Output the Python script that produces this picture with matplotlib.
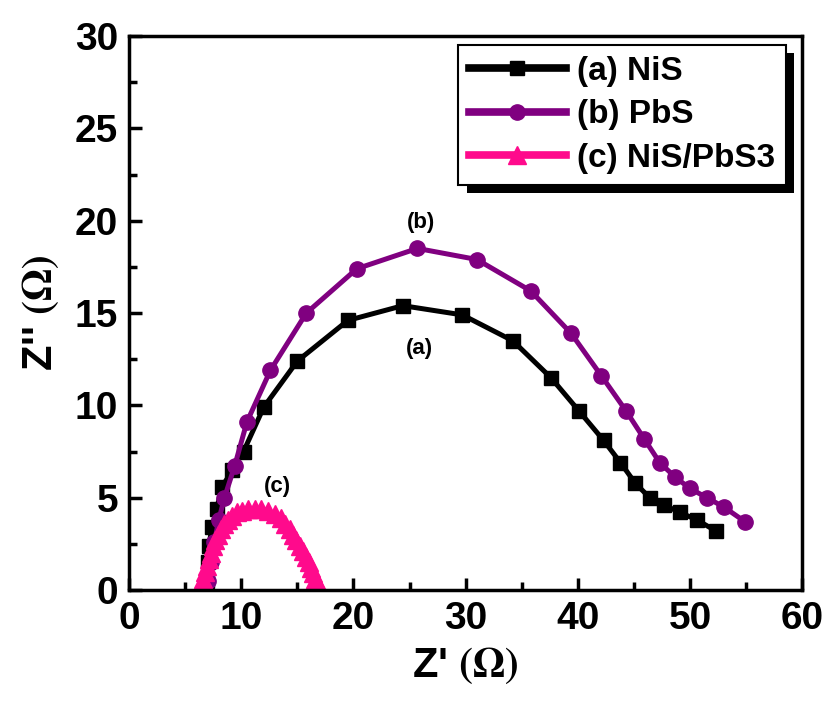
import matplotlib
matplotlib.use("Agg")
from matplotlib import pyplot as plt
from matplotlib import patheffects as pe

plt.rcParams['font.family'] = ['Liberation Sans', 'DejaVu Sans']
plt.rcParams['font.weight'] = 'bold'
plt.rcParams['mathtext.fontset'] = 'stix'

# (a) NiS
nis_x = [6.9, 7.0, 7.1, 7.4, 7.8, 8.3, 9.2, 10.2, 12.0, 15.0, 19.5, 24.4, 29.7, 34.2,
         37.6, 40.1, 42.3, 43.8, 45.1, 46.4, 47.7, 49.1, 50.6, 52.3]
nis_y = [0.5, 1.5, 2.4, 3.4, 4.4, 5.6, 6.5, 7.5, 9.9, 12.4, 14.6, 15.4, 14.9, 13.5,
         11.5, 9.7, 8.1, 6.9, 5.8, 5.0, 4.6, 4.2, 3.8, 3.2]
# (b) PbS
pbs_x = [7.0, 7.3, 7.6, 8.0, 8.5, 9.4, 10.5, 12.6, 15.8, 20.3, 25.7, 31.0, 35.8, 39.4,
         42.1, 44.3, 45.9, 47.3, 48.7, 50.0, 51.5, 53.0, 54.9]
pbs_y = [0.5, 1.5, 2.6, 3.8, 5.0, 6.7, 9.1, 11.9, 15.0, 17.4, 18.5, 17.9, 16.2, 13.9,
         11.6, 9.7, 8.2, 6.9, 6.1, 5.5, 5.0, 4.5, 3.7]
# (c) NiS/PbS3
nps_x = [6.4, 6.5, 6.6, 6.8, 6.9, 7.1, 7.3, 7.5, 7.7, 7.9, 8.2, 8.5, 8.8, 9.2, 9.6, 10.1,
         10.6, 11.2, 11.8, 12.4, 13.0, 13.5, 13.9, 14.3, 14.6, 14.9, 15.2, 15.5, 15.8,
         16.0, 16.2, 16.4, 16.6, 16.8, 17.0]
nps_y = [0.0, 0.3, 0.6, 1.0, 1.3, 1.7, 2.0, 2.4, 2.7, 3.0, 3.3, 3.6, 3.8, 4.0, 4.2, 4.3,
         4.4, 4.4, 4.4, 4.3, 4.1, 3.9, 3.6, 3.3, 3.0, 2.7, 2.4, 2.1, 1.8,
         1.5, 1.2, 0.9, 0.6, 0.3, 0.0]

fig = plt.figure(figsize=(8.33, 7.08), dpi=100)
ax = fig.add_axes([0.155, 0.1667, 0.808, 0.7823])

ax.plot(nis_x, nis_y, color='black', lw=3.6, marker='s', ms=10, label='(a) NiS')
ax.plot(pbs_x, pbs_y, color='#800080', lw=3.6, marker='o', ms=11, label='(b) PbS')
ax.plot(nps_x, nps_y, color='#FF0A8C', lw=3.6, marker='^', ms=13.5, label='(c) NiS/PbS3')

ax.text(26.0, 19.6, '(b)', fontsize=16, fontweight='bold', ha='center')
ax.text(25.9, 12.8, '(a)', fontsize=16, fontweight='bold', ha='center')
ax.text(13.2, 5.3, '(c)', fontsize=16, fontweight='bold', ha='center')

ax.set_xlim(0, 60)
ax.set_ylim(0, 30)
ax.set_xticks(range(0, 61, 10))
ax.set_yticks(range(0, 31, 5))
ax.set_xticks(range(5, 60, 10), minor=True)
ax.set_yticks([2.5, 7.5, 12.5, 17.5, 22.5, 27.5], minor=True)
ax.tick_params(which='major', direction='in', length=9, width=2.5, labelsize=28, pad=8)
ax.tick_params(which='minor', direction='in', length=6, width=2.5)
for s in ax.spines.values():
    s.set_linewidth(2.5)

ax.set_xlabel(r"Z' $(\Omega)$", fontsize=30, fontweight='bold', labelpad=6)
ax.set_ylabel(r"Z'' $(\Omega)$", fontsize=30, fontweight='bold', labelpad=10)

leg = ax.legend(loc='upper right', bbox_to_anchor=(0.976, 0.984), fontsize=24,
                frameon=True, fancybox=False, edgecolor='black', framealpha=1,
                handlelength=2.9, handletextpad=0.35, borderpad=0.32, labelspacing=0.38,
                borderaxespad=0)
leg.get_frame().set_linewidth(1.5)
leg.get_frame().set_path_effects([
    pe.SimplePatchShadow(offset=(6, -6), shadow_rgbFace='black', alpha=1), pe.Normal()])
for h in leg.legend_handles:
    h.set_linewidth(5.5)

fig.savefig('out.png', dpi=100)
